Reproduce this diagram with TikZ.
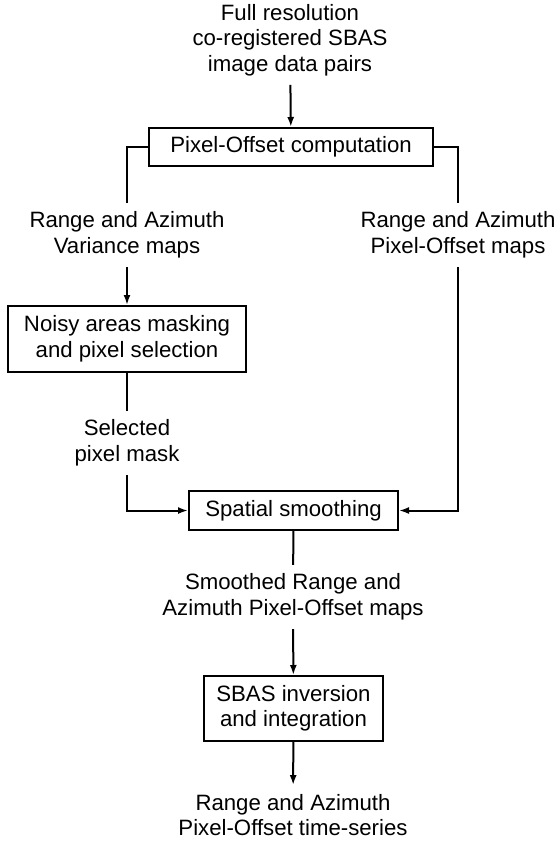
\documentclass[tikz,border=0pt]{standalone}
\usepackage{fontspec}
\setmainfont{Liberation Sans}
\usetikzlibrary{arrows.meta}
\begin{document}
\begin{tikzpicture}[x=1pt,y=-1pt,
  every node/.style={font=\fontsize{22.2}{25.5}\selectfont, align=center},
  lbl/.style={inner sep=0pt, outer ysep=9pt},
  stepbox/.style={draw, line width=2pt, inner sep=0pt},
  conn/.style={line width=2pt},
  arr/.style={conn, -{Latex[length=10pt,width=7pt]}}]
\useasboundingbox (0,0) rectangle (554,841);
\node[lbl] (src) at (290,40) {Full resolution\\co-registered SBAS\\image data pairs};
\node[stepbox, minimum width=284pt, minimum height=38pt] (po) at (291,147) {Pixel-Offset computation};
\node[lbl] (var) at (127,235) {Range and Azimuth\\Variance maps};
\node[lbl] (off) at (458,235) {Range and Azimuth\\Pixel-Offset maps};
\node[stepbox, minimum width=238pt, minimum height=66pt] (noisy) at (127,339) {Noisy areas masking\\and pixel selection};
\node[lbl] (sel) at (127,443) {Selected\\pixel mask};
\node[stepbox, minimum width=209pt, minimum height=39pt] (sm) at (293.5,510.5) {Spatial smoothing};
\node[lbl] (smo) at (293,597) {Smoothed Range and\\Azimuth Pixel-Offset maps};
\node[stepbox, minimum width=179pt, minimum height=65pt] (sbas) at (293.5,708.5) {SBAS inversion\\and integration};
\node[lbl] (res) at (293,815) {Range and Azimuth\\Pixel-Offset time-series};
\draw[arr] (src) -- (po);
\draw[conn] (po.west) -| (var.north);
\draw[conn] (po.east) -| (off.north);
\draw[arr] (var) -- (noisy);
\draw[conn] (noisy) -- (sel);
\draw[arr] (sel.south) |- (sm.west);
\draw[arr] (off.south) |- (sm.east);
\draw[conn] (sm) -- (smo);
\draw[arr] (smo) -- (sbas);
\draw[arr] (sbas) -- (res);
\end{tikzpicture}
\end{document}
